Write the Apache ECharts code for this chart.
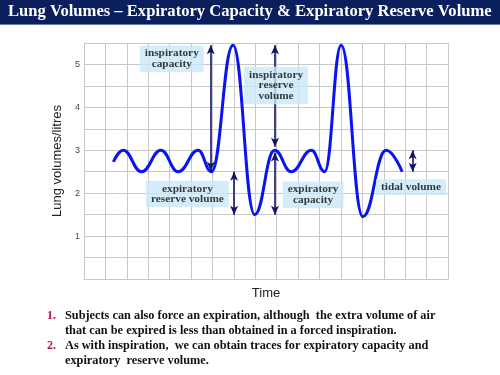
<!DOCTYPE html>
<html>
<head>
<meta charset="utf-8">
<script src="https://cdn.jsdelivr.net/npm/echarts@6/dist/echarts.min.js"></script>
<style>
  html, body { margin: 0; padding: 0; background: #fff; }
  #chart { width: 500px; height: 375px; }
</style>
</head>
<body>
<div id="chart"></div>
<script>
// trace: turning points of the spirometer trace
const curveTime = [1.37, 1.83, 2.69, 3.59, 4.4, 5.33, 5.95, 6.96, 7.97, 8.9, 9.68, 10.62, 11.24, 12.01, 13.02, 14.11, 14.86];
const curveVolume = [2.73, 3.0, 2.5, 3.0, 2.5, 3.0, 2.5, 5.45, 1.5, 3.0, 2.5, 3.0, 2.5, 5.45, 1.45, 3.0, 2.5];

// double-headed arrows
const arrowTime = [5.92, 7.01, 8.92, 8.92, 15.35];
const arrowFrom = [5.45, 2.5, 5.45, 2.95, 3.0];
const arrowTo = [2.52, 1.5, 3.08, 1.5, 2.5];

// boxed labels
const labelText = ["inspiratory\ncapacity", "expiratory\nreserve volume", "inspiratory\nreserve\nvolume", "expiratory\ncapacity", "tidal volume"];
const labelTime = [4.1, 4.83, 8.97, 10.7, 15.27];
const labelVolume = [5.13, 1.98, 4.51, 1.96, 2.14];

const yTicks = [1, 2, 3, 4, 5];

const notes = [
  ["1.", "Subjects can also force an expiration, although  the extra volume of air"],
  ["", "that can be expired is less than obtained in a forced inspiration."],
  ["2.", "As with inspiration,  we can obtain traces for expiratory capacity and"],
  ["", "expiratory  reserve volume."],
];

const chart = echarts.init(document.getElementById("chart"), null, { renderer: "canvas" });
const gridColor = "#c8c8c8";
const navy = "#12126e";
const serif = "'Liberation Serif', 'DejaVu Serif', serif";

const noteGraphics = [];
notes.forEach((n, i) => {
  const y = 316 + i * 14.5 + (i >= 2 ? 1 : 0);
  if (n[0]) {
    noteGraphics.push({
      type: "text", left: 47, top: y - 6,
      style: { text: n[0], fill: "#c0163c", font: "bold 12px " + serif },
    });
  }
  noteGraphics.push({
    type: "text", left: 65, top: y - 6,
    style: { text: n[1], fill: "#111", font: "bold 12.3px " + serif },
  });
});

chart.setOption({
  animation: false,
  grid: { left: 84, right: 52, top: 43, bottom: 96 },
  xAxis: {
    type: "value", min: 0, max: 17, interval: 1,
    name: "Time", nameLocation: "middle", nameGap: 8,
    nameTextStyle: { fontFamily: "'Liberation Sans', Arial, sans-serif", fontSize: 13, color: "#222", verticalAlign: "top" },
    axisLabel: { show: false },
    axisTick: { show: false },
    axisLine: { lineStyle: { color: gridColor } },
    splitLine: { lineStyle: { color: gridColor, width: 1 } },
  },
  yAxis: {
    type: "value", min: 0, max: 5.5, interval: 0.5,
    name: "Lung volumes/litres", nameLocation: "middle", nameGap: 20,
    nameTextStyle: { fontFamily: "'Liberation Sans', Arial, sans-serif", fontSize: 13, color: "#222" },
    axisLabel: {
      margin: 4, fontSize: 9, color: "#444", fontFamily: "'Liberation Sans', Arial, sans-serif",
      formatter: (v) => (yTicks.includes(v) ? String(v) : ""),
    },
    axisTick: { show: false },
    axisLine: { show: true, lineStyle: { color: gridColor } },
    splitLine: { lineStyle: { color: gridColor, width: 1 } },
  },
  graphic: [
    { type: "rect", left: 0, top: 0, shape: { width: 500, height: 24 }, style: { fill: "#0b1f5c" } },
    { type: "rect", left: 0, top: 24, shape: { width: 500, height: 1 }, style: { fill: "#6b7ba8" } },
    {
      type: "text", left: 8, top: 3,
      style: { text: "Lung Volumes \u2013 Expiratory Capacity & Expiratory Reserve Volume", fill: "#fff", font: "bold 16.6px " + serif },
    },
    ...noteGraphics,
  ],
  series: [
    {
      type: "line",
      data: curveTime.map((t, i) => [t, curveVolume[i]]),
      smooth: 0.45,
      smoothMonotone: "x",
      showSymbol: false,
      lineStyle: { color: "#0a14f0", width: 3 },
      markLine: {
        silent: true,
        symbol: ["arrow", "arrow"],
        symbolSize: [6, 9],
        label: { show: false },
        lineStyle: { color: navy, width: 1.6, type: "solid" },
        data: arrowTime.map((t, i) => [{ coord: [t, arrowFrom[i]] }, { coord: [t, arrowTo[i]] }]),
      },
      z: 3,
    },
    {
      type: "scatter",
      data: labelTime.map((t, i) => [t, labelVolume[i]]),
      symbolSize: 0,
      z: 5,
      label: {
        show: true,
        position: "inside",
        formatter: (p) => labelText[p.dataIndex],
        backgroundColor: "#cbe9f9",
        padding: [3, 5, 2, 5],
        lineHeight: 10.8,
        fontFamily: serif,
        fontWeight: "bold",
        fontSize: 11.3,
        color: "#0a0a0a",
        align: "center",
      },
    },
  ],
});
</script>
</body>
</html>
